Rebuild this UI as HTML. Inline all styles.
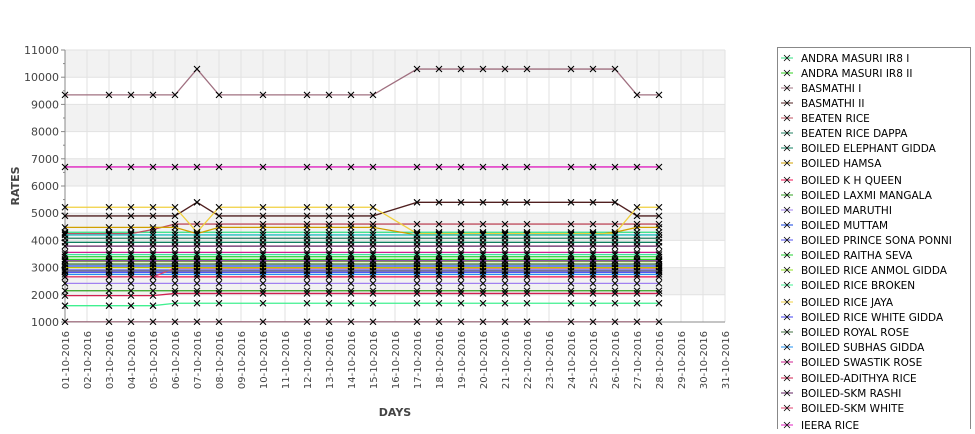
<!DOCTYPE html>
<html><head><meta charset="utf-8"><style>
body{margin:0;background:#fff;font-family:"Liberation Sans","DejaVu Sans",sans-serif}
svg text{font-family:"DejaVu Sans","Liberation Sans",sans-serif}
</style></head><body>
<svg id="c" width="975" height="429" xmlns="http://www.w3.org/2000/svg"></svg>
<script>
const dates=[1,3,4,5,6,7,8,10,12,13,14,15,17,18,19,20,21,22,24,25,26,27,28];
const names=["ANDRA MASURI IR8 I","ANDRA MASURI IR8 II","BASMATHI I","BASMATHI II","BEATEN RICE","BEATEN RICE DAPPA","BOILED ELEPHANT GIDDA","BOILED HAMSA","BOILED K H QUEEN","BOILED LAXMI MANGALA","BOILED MARUTHI","BOILED MUTTAM","BOILED PRINCE SONA PONNI","BOILED RAITHA SEVA","BOILED RICE ANMOL GIDDA","BOILED RICE BROKEN","BOILED RICE JAYA","BOILED RICE WHITE GIDDA","BOILED ROYAL ROSE","BOILED SUBHAS GIDDA","BOILED SWASTIK ROSE","BOILED-ADITHYA RICE","BOILED-SKM RASHI","BOILED-SKM WHITE","JEERA RICE"];
const colors=["#30e080","#30d020","#a07080","#502020","#c05060","#208060","#108060","#d0a000","#f01050","#30a020","#a080f0","#1040e0","#5050f0","#20d030","#90e020","#40f090","#f0d040","#4040f0","#407040","#2090f0","#d02090","#d02050","#602060","#e04070","#e020c0","#a07080","#40e0a0","#c0c000","#808080","#20c0c0","#8040a0"];
const valsAndra1=[4300,4300,4300,4300,4300,4300,4300,4300,4300,4300,4300,4300,4300,4300,4300,4300,4300,4300,4300,4300,4300,4300,4300];
const valsAndra2=[3300,3300,3300,3300,3300,3300,3300,3300,3300,3300,3300,3300,3300,3300,3300,3300,3300,3300,3300,3300,3300,3300,3300];
const valsBasmathi1=[9350,9350,9350,9350,9350,10300,9350,9350,9350,9350,9350,9350,10300,10300,10300,10300,10300,10300,10300,10300,10300,9350,9350];
const valsBasmathi2=[4900,4900,4900,4900,4900,5400,4900,4900,4900,4900,4900,4900,5400,5400,5400,5400,5400,5400,5400,5400,5400,4900,4900];
const valsBeaten=[4250,4250,4250,4400,4600,4600,4600,4600,4600,4600,4600,4600,4600,4600,4600,4600,4600,4600,4600,4600,4600,4600,4600];
const valsBeatenDappa=[4080,4080,4080,4080,4080,4080,4080,4080,4080,4080,4080,4080,4080,4080,4080,4080,4080,4080,4080,4080,4080,4080,4080];
const valsElephant=[3930,3930,3930,3930,3930,3930,3930,3930,3930,3930,3930,3930,3930,3930,3930,3930,3930,3930,3930,3930,3930,3930,3930];
const valsHamsa=[4480,4480,4480,4480,4480,4250,4480,4480,4480,4480,4480,4480,4200,4200,4200,4200,4200,4200,4200,4200,4300,4480,4480];
const valsKHQueen=[2660,2660,2660,2660,2660,2660,2660,2660,2660,2660,2660,2660,2660,2660,2660,2660,2660,2660,2660,2660,2660,2660,2660];
const valsLaxmi=[2150,2150,2150,2150,2150,2150,2150,2150,2150,2150,2150,2150,2150,2150,2150,2150,2150,2150,2150,2150,2150,2150,2150];
const valsMaruthi=[2420,2420,2420,2420,2420,2420,2420,2420,2420,2420,2420,2420,2420,2420,2420,2420,2420,2420,2420,2420,2420,2420,2420];
const valsMuttam=[3060,3060,3060,3060,3060,3060,3060,3060,3060,3060,3060,3060,3060,3060,3060,3060,3060,3060,3060,3060,3060,3060,3060];
const valsPrince=[2910,2910,2910,2910,2910,2910,2910,2910,2910,2910,2910,2910,2910,2910,2910,2910,2910,2910,2910,2910,2910,2910,2910];
const valsRaitha=[3400,3400,3400,3400,3400,3400,3400,3400,3400,3400,3400,3400,3400,3400,3400,3400,3400,3400,3400,3400,3400,3400,3400];
const valsAnmol=[3220,3220,3220,3220,3220,3220,3220,3220,3220,3220,3220,3220,3220,3220,3220,3220,3220,3220,3220,3220,3220,3220,3220];
const valsBroken=[1600,1600,1600,1600,1690,1690,1690,1690,1690,1690,1690,1690,1690,1690,1690,1690,1690,1690,1690,1690,1690,1690,1690];
const valsJaya=[5220,5220,5220,5220,5220,4300,5220,5220,5220,5220,5220,5220,4250,4250,4250,4250,4250,4250,4250,4250,4250,5220,5220];
const valsWhiteGidda=[2830,2830,2830,2830,2830,2830,2830,2830,2830,2830,2830,2830,2830,2830,2830,2830,2830,2830,2830,2830,2830,2830,2830];
const valsRoyal=[3130,3130,3130,3130,3130,3130,3130,3130,3130,3130,3130,3130,3130,3130,3130,3130,3130,3130,3130,3130,3130,3130,3130];
const valsSubhas=[2750,2750,2750,2750,2750,2750,2750,2750,2750,2750,2750,2750,2750,2750,2750,2750,2750,2750,2750,2750,2750,2750,2750];
const valsSwastik=[3560,3560,3560,3560,3560,3560,3560,3560,3560,3560,3560,3560,3560,3560,3560,3560,3560,3560,3560,3560,3560,3560,3560];
const valsAdithya=[1970,1970,1970,1970,2050,2050,2050,2050,2050,2050,2050,2050,2050,2050,2050,2050,2050,2050,2050,2050,2050,2050,2050];
const valsRashi=[3790,3790,3790,3790,3790,3790,3790,3790,3790,3790,3790,3790,3790,3790,3790,3790,3790,3790,3790,3790,3790,3790,3790];
const valsSkmWhite=[2660,2660,2660,2660,2980,2980,2980,2980,2980,2980,2980,2980,2980,2980,2980,2980,2980,2980,2980,2980,2980,2980,2980];
const valsJeera=[6700,6700,6700,6700,6700,6700,6700,6700,6700,6700,6700,6700,6700,6700,6700,6700,6700,6700,6700,6700,6700,6700,6700];
const valsExtra=[1010,1010,1010,1010,1010,1010,1010,1010,1010,1010,1010,1010,1010,1010,1010,1010,1010,1010,1010,1010,1010,1010,1010];
const valsExtra2=[3480,3480,3480,3480,3480,3480,3480,3480,3480,3480,3480,3480,3480,3480,3480,3480,3480,3480,3480,3480,3480,3480,3480];
const valsExtra3=[3000,3000,3000,3000,3000,3000,3000,3000,3000,3000,3000,3000,3000,3000,3000,3000,3000,3000,3000,3000,3000,3000,3000];
const valsExtra4=[2880,2880,2880,2880,2880,2880,2880,2880,2880,2880,2880,2880,2880,2880,2880,2880,2880,2880,2880,2880,2880,2880,2880];
const valsExtra5=[4200,4200,4200,4200,4200,4200,4200,4200,4200,4200,4200,4200,4200,4200,4200,4200,4200,4200,4200,4200,4200,4200,4200];
const valsExtra6=[3250,3250,3250,3250,3250,3250,3250,3250,3250,3250,3250,3250,3250,3250,3250,3250,3250,3250,3250,3250,3250,3250,3250];
const series=[valsAndra1,valsAndra2,valsBasmathi1,valsBasmathi2,valsBeaten,valsBeatenDappa,valsElephant,valsHamsa,valsKHQueen,valsLaxmi,valsMaruthi,valsMuttam,valsPrince,valsRaitha,valsAnmol,valsBroken,valsJaya,valsWhiteGidda,valsRoyal,valsSubhas,valsSwastik,valsAdithya,valsRashi,valsSkmWhite,valsJeera,valsExtra,valsExtra2,valsExtra3,valsExtra4,valsExtra5,valsExtra6];
const yTicks=[1000,2000,3000,4000,5000,6000,7000,8000,9000,10000,11000];
const xDays=[];for(let d=1;d<=31;d++)xDays.push(d);

const NS="http://www.w3.org/2000/svg",svg=document.getElementById('c');
const L=65,R=725,T=50,B=322;
const x=d=>L+(d-1)*(R-L)/30;
const y=v=>B-(v-1000)*(B-T)/10000;
function mk(t,a,p){const e=document.createElementNS(NS,t);for(const k in a)e.setAttribute(k,a[k]);(p||svg).appendChild(e);return e;}
for(let i=0;i<yTicks.length-1;i++){if(i%2===1){const b=mk('rect',{x:L,y:y(yTicks[i+1]),width:R-L,height:y(yTicks[i])-y(yTicks[i+1]),fill:'#f2f2f2'});

}}
for(const d of xDays){const g=mk('line',{x1:x(d),x2:x(d),y1:T,y2:B,stroke:'#e2e2e2'});


const t=mk('text',{x:0,y:0,transform:`translate(${x(d)+4},331) rotate(-90)`,'text-anchor':'end','font-size':'10',fill:'#444'});
t.textContent=String(d).padStart(2,'0')+'-10-2016';

}
for(const v of yTicks){const g=mk('line',{x1:L,x2:R,y1:y(v),y2:y(v),stroke:'#e2e2e2'});


mk('line',{x1:L-4,x2:L,y1:y(v),y2:y(v),stroke:'#888'});
if(v<11000)mk('line',{x1:L-2,x2:L,y1:y(v+500),y2:y(v+500),stroke:'#888'});
const t=mk('text',{x:L-6,y:y(v)+4,'text-anchor':'end','font-size':'11',fill:'#444'});t.textContent=v;

}
mk('line',{x1:L,x2:L,y1:T,y2:B,stroke:'#888'});mk('line',{x1:L,x2:R,y1:B,y2:B,stroke:'#888'});
series.forEach((s,i)=>{const col=colors[i%colors.length];
const p=mk('polyline',{points:s.map((v,j)=>x(dates[j])+','+y(v)).join(' '),fill:'none',stroke:col,'stroke-width':'1.3'});


s.forEach((v,j)=>{const cx=x(dates[j]),cy=y(v);
const m=mk('path',{d:`M${cx-3},${cy-3}L${cx+3},${cy+3}M${cx-3},${cy+3}L${cx+3},${cy-3}`,stroke:'#000','stroke-width':'1.1'});

});});
const yt=mk('text',{x:0,y:0,transform:'translate(19,186) rotate(-90)','text-anchor':'middle','font-size':'11','font-weight':'bold',fill:'#444'});yt.textContent='RATES';


const xt=mk('text',{x:395,y:416,'text-anchor':'middle','font-size':'11','font-weight':'bold',fill:'#444'});xt.textContent='DAYS';


const lg=mk('rect',{x:777.5,y:47.5,width:193,height:400,fill:'#fff',stroke:'#888'});


const rowsY=[58,73,88,103,118,133,148,163,180,195,210,225,240,255,270,285,302,317,332,347,362,378,393,408,425];
names.forEach((n,i)=>{const ly=rowsY[i];
mk('line',{x1:781,x2:793,y1:ly,y2:ly,stroke:colors[i]});
mk('path',{d:`M${784},${ly-3}L${790},${ly+3}M${784},${ly+3}L${790},${ly-3}`,stroke:'#000','stroke-width':'0.8'});
const t=mk('text',{x:801,y:ly+4,'font-size':'10.5',fill:'#000'});t.textContent=n;

});
</script>
</body></html>
